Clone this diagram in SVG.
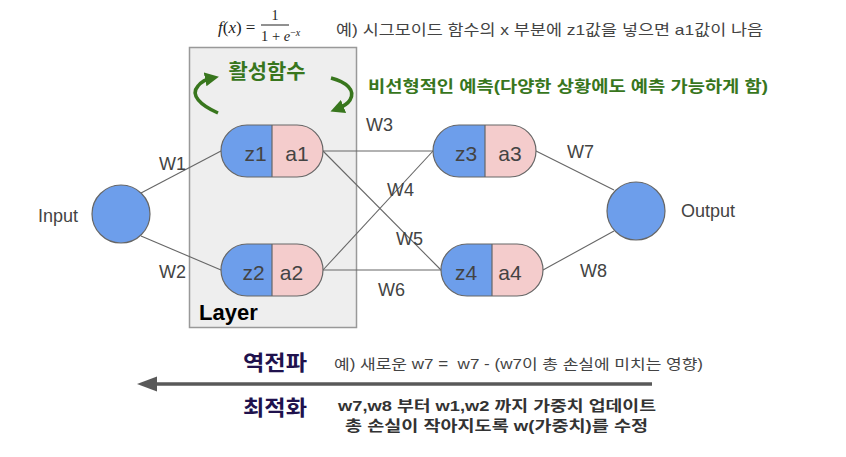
<svg xmlns="http://www.w3.org/2000/svg" width="846" height="457" viewBox="0 0 846 457">
<defs>
<style>
.ko{font-family:"Liberation Sans","Noto Sans CJK KR",sans-serif}
.lbl{font-family:"Liberation Sans",Arial,sans-serif;font-size:18px;fill:#434343}
.nt{font-family:"Liberation Sans",Arial,sans-serif;font-size:21px;fill:#434343;text-anchor:middle}
.blue{fill:#6d9eeb}
.pink{fill:#f4cccc}
.ol{fill:none;stroke:#666666;stroke-width:1.2}
.conn line{stroke:#666666;stroke-width:1.1}
.green{fill:none;stroke:#38761d;stroke-width:3.5}
.math{font-family:"Liberation Serif","DejaVu Serif",serif;fill:#222}
</style>
<marker id="gh" viewBox="0 0 10 10" refX="5" refY="5" markerWidth="4" markerHeight="4" orient="auto" markerUnits="strokeWidth">
<path d="M0,0 L10,5 L0,10 z" fill="#38761d"/>
</marker>
</defs>
<rect width="846" height="457" fill="#ffffff"/>

<!-- formula -->
<g id="formula" class="math">
<text x="218" y="33" font-size="17"><tspan font-style="italic">f</tspan>(<tspan font-style="italic">x</tspan>) =</text>
<line x1="261" y1="25" x2="289" y2="25" stroke="#222" stroke-width="1"/>
<text x="275" y="20" font-size="14" text-anchor="middle">1</text>
<text x="261" y="41" font-size="14.5">1 + <tspan font-style="italic">e</tspan><tspan font-size="10" dy="-5">−<tspan font-style="italic">x</tspan></tspan></text>
</g>
<text class="ko" x="336" y="35" font-size="15" fill="#434343" textLength="427" lengthAdjust="spacingAndGlyphs">예) 시그모이드 함수의 x 부분에 z1값을 넣으면 a1값이 나음</text>

<!-- Layer box -->
<g id="layer">
<rect x="189.5" y="47.5" width="167" height="280" fill="#eeeeee" stroke="#999999" stroke-width="1.5"/>
<text x="199" y="320" font-family="Liberation Sans,Arial,sans-serif" font-size="22" font-weight="bold" fill="#000">Layer</text>
</g>

<!-- activation -->
<g id="activation">
<text class="ko" x="267" y="79" font-size="20" font-weight="bold" fill="#38761d" text-anchor="middle" textLength="77" lengthAdjust="spacingAndGlyphs">활성함수</text>
<path class="green" d="M218,113 C200,105 190,95 198,86 C202,81 207,79 212,78" marker-end="url(#gh)"/>
<path class="green" d="M331,78 C346,82 356,90 350,100 C347,105 342,107 337,109" marker-end="url(#gh)"/>
<text class="ko" x="368" y="92" font-size="16" font-weight="bold" fill="#38761d" textLength="400" lengthAdjust="spacingAndGlyphs">비선형적인 예측(다양한 상황에도 예측 가능하게 함)</text>
</g>

<!-- connectors -->
<g id="connectors" class="conn">
<line x1="141" y1="193" x2="221" y2="151"/>
<line x1="141" y1="236" x2="221" y2="270"/>
<line x1="323" y1="151" x2="433" y2="151"/>
<line x1="323" y1="151" x2="441" y2="270"/>
<line x1="323" y1="270" x2="433" y2="151"/>
<line x1="323" y1="270" x2="441" y2="270"/>
<line x1="536" y1="151" x2="614" y2="190"/>
<line x1="543" y1="270" x2="614" y2="231"/>
</g>

<!-- weight labels -->
<g id="weights" class="lbl">
<text x="159" y="170">W1</text>
<text x="159" y="278">W2</text>
<text x="366" y="131">W3</text>
<text x="387" y="196">W4</text>
<text x="396" y="245">W5</text>
<text x="378" y="296">W6</text>
<text x="567" y="158">W7</text>
<text x="580" y="277">W8</text>
</g>

<g id="input">
<circle cx="121" cy="214" r="29" fill="#6d9eeb" stroke="#666" stroke-width="1.2"/>
<text class="lbl" x="38" y="222">Input</text>
</g>
<g id="output">
<circle cx="636" cy="211" r="29" fill="#6d9eeb" stroke="#666" stroke-width="1.2"/>
<text class="lbl" x="681" y="217">Output</text>
</g>

<g id="n1">
<path class="blue" d="M272,125 H247 A26,26 0 0 0 247,177 H272 Z"/>
<path class="pink" d="M272,125 H297 A26,26 0 0 1 297,177 H272 Z"/>
<path class="ol" d="M247,125 H297 A26,26 0 0 1 297,177 H247 A26,26 0 0 1 247,125 Z M272,125 V177"/>
<text class="nt" x="255.5" y="161">z1</text>
<text class="nt" x="297" y="161">a1</text>
</g>
<g id="n2">
<path class="blue" d="M272,244 H247 A26,26 0 0 0 247,296 H272 Z"/>
<path class="pink" d="M272,244 H297 A26,26 0 0 1 297,296 H272 Z"/>
<path class="ol" d="M247,244 H297 A26,26 0 0 1 297,296 H247 A26,26 0 0 1 247,244 Z M272,244 V296"/>
<text class="nt" x="253.5" y="280">z2</text>
<text class="nt" x="291.5" y="280">a2</text>
</g>
<g id="n3">
<path class="blue" d="M485,125 H459 A26,26 0 0 0 459,177 H485 Z"/>
<path class="pink" d="M485,125 H510 A26,26 0 0 1 510,177 H485 Z"/>
<path class="ol" d="M459,125 H510 A26,26 0 0 1 510,177 H459 A26,26 0 0 1 459,125 Z M485,125 V177"/>
<text class="nt" x="466" y="161">z3</text>
<text class="nt" x="510" y="161">a3</text>
</g>
<g id="n4">
<path class="blue" d="M492,244 H467 A26,26 0 0 0 467,296 H492 Z"/>
<path class="pink" d="M492,244 H517 A26,26 0 0 1 517,296 H492 Z"/>
<path class="ol" d="M467,244 H517 A26,26 0 0 1 517,296 H467 A26,26 0 0 1 467,244 Z M492,244 V296"/>
<text class="nt" x="466" y="280">z4</text>
<text class="nt" x="510" y="280">a4</text>
</g>

<!-- backprop -->
<g id="backprop">
<text class="ko" x="243" y="370" font-size="21" font-weight="bold" fill="#20124d" textLength="64" lengthAdjust="spacingAndGlyphs">역전파</text>
<text class="ko" x="334" y="369" font-size="14" fill="#434343" textLength="369" lengthAdjust="spacingAndGlyphs" xml:space="preserve">예) 새로운 w7 =  w7 - (w7이 총 손실에 미치는 영향)</text>
<line x1="652" y1="384" x2="152" y2="384" stroke="#595959" stroke-width="3.5"/>
<path d="M137,384 L157,376.5 L157,391.5 Z" fill="#595959"/>
<text class="ko" x="243" y="415" font-size="21" font-weight="bold" fill="#20124d" textLength="64" lengthAdjust="spacingAndGlyphs">최적화</text>
<text class="ko" x="338" y="411" font-size="15" font-weight="bold" fill="#333333" textLength="318" lengthAdjust="spacingAndGlyphs">w7,w8 부터 w1,w2 까지 가중치 업데이트</text>
<text class="ko" x="345" y="431" font-size="15" font-weight="bold" fill="#333333" textLength="303" lengthAdjust="spacingAndGlyphs">총 손실이 작아지도록 w(가중치)를 수정</text>
</g>
</svg>
